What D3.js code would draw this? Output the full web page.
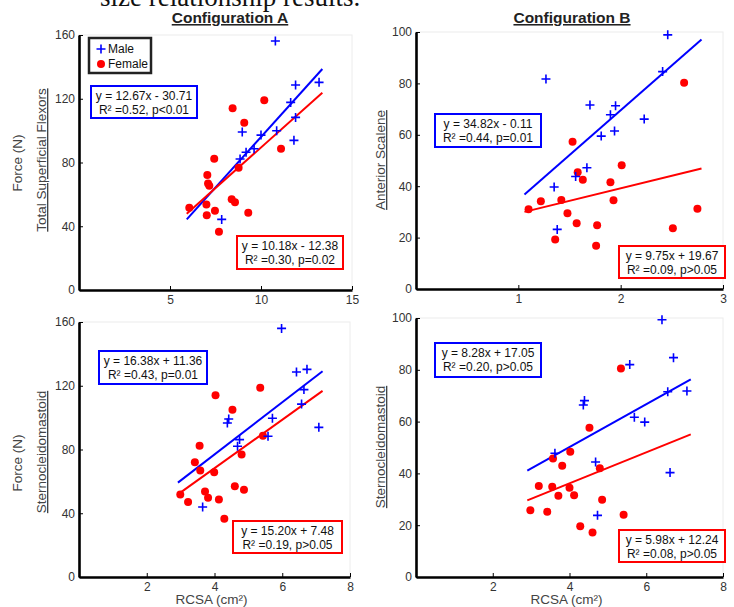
<!DOCTYPE html>
<html>
<head>
<meta charset="utf-8">
<script src="https://cdn.jsdelivr.net/npm/d3@7"></script>
<style>
  body { margin: 0; background: #fff; }
  svg { display: block; font-family: Arial, "Liberation Sans", sans-serif; }
</style>
</head>
<body>
<svg id="chart" width="734" height="607"></svg>
<script>
// Configuration A - Total Superficial Flexors (RCSA, Force)
const aMale = [[10.79,156.2],[11.9,128.6],[13.19,130.3],[11.63,117.7],[11.9,108.3],[10.86,99.9],
  [10.0,97.2],[11.81,93.9],[8.97,99.1],[9.62,88.6],[9.18,86.4],[8.85,82.2],[7.84,44.3]];
const aFemale = [[10.18,119.0],[8.44,114.0],[9.08,105.0],[11.1,88.6],[8.77,76.7],[7.43,82.4],
  [7.05,72.1],[7.09,66.9],[7.16,65.4],[6.06,51.6],[7.0,53.7],[8.39,56.9],[8.57,55.0],
  [7.47,49.8],[9.3,48.5],[7.02,46.9],[7.69,36.6]];

// Configuration B - Anterior Scalene
const bMale = [[2.46,98.9],[2.41,84.6],[1.27,81.7],[1.70,71.6],[1.95,71.3],[1.90,67.8],
  [2.23,66.1],[1.94,61.5],[1.81,59.5],[1.67,47.2],[1.56,43.8],[1.35,39.7],[1.38,23.2]];
const bFemale = [[2.62,80.3],[1.53,57.3],[2.01,48.2],[1.58,45.4],[1.63,42.5],[1.90,41.5],
  [1.42,34.6],[1.22,34.1],[1.93,34.5],[1.10,31.0],[2.75,31.2],[1.48,29.5],[1.57,25.6],
  [1.77,24.8],[2.51,23.6],[1.36,19.3],[1.76,16.8]];

// Configuration A - Sternocleidomastoid
const cMale = [[5.98,156.0],[6.42,128.6],[6.73,130.3],[6.64,117.6],[6.57,108.5],[5.71,99.6],
  [4.42,99.1],[4.38,96.6],[7.08,93.9],[5.58,88.3],[4.74,86.2],[4.68,82.0],[3.65,43.9]];
const cFemale = [[5.35,118.8],[4.03,114.0],[4.53,105.0],[5.43,88.7],[3.56,82.4],[4.80,76.8],
  [3.42,72.0],[3.58,66.9],[3.99,65.7],[4.60,56.9],[4.87,54.8],[3.72,53.6],[2.99,51.7],
  [3.81,49.8],[4.13,48.6],[3.22,47.1],[4.29,36.6]];

// Configuration B - Sternocleidomastoid
const dMale = [[6.41,99.3],[6.71,84.7],[5.57,82.0],[6.56,71.5],[7.06,71.8],[4.39,68.1],
  [4.36,66.4],[5.69,61.7],[5.96,59.8],[3.62,47.8],[4.68,44.4],[6.62,40.3],[4.73,23.8]];
const dFemale = [[5.34,80.5],[4.52,57.6],[4.02,48.4],[3.57,45.8],[3.81,43.0],[4.79,42.0],
  [3.20,35.1],[3.55,34.8],[4.0,34.5],[3.71,31.4],[4.12,31.6],[4.85,29.8],[2.98,25.8],
  [3.42,25.2],[5.41,24.0],[4.28,19.6],[4.60,17.2]];

// regression fits: [slope, intercept], drawn over lineX
const aFit = { male: [12.67, -30.71], female: [10.18, -12.38] };
const bFit = { male: [34.82, -0.11], female: [9.75, 19.67] };
const cFit = { male: [16.38, 11.36], female: [15.20, 7.48] };
const dFit = { male: [8.28, 17.05], female: [5.98, 12.24] };
const aLineX = [5.92, 13.37];
const bLineX = [1.06, 2.79];
const cLineX = [2.92, 7.19];
const dLineX = [2.9, 7.16];

const aStats = { male: ["y = 12.67x - 30.71", "R\u00b2 =0.52, p<0.01"], female: ["y = 10.18x - 12.38", "R\u00b2 =0.30, p=0.02"] };
const bStats = { male: ["y = 34.82x - 0.11", "R\u00b2 =0.44, p=0.01"], female: ["y = 9.75x + 19.67", "R\u00b2 =0.09, p>0.05"] };
const cStats = { male: ["y = 16.38x + 11.36", "R\u00b2 =0.43, p=0.01"], female: ["y = 15.20x + 7.48", "R\u00b2 =0.19, p>0.05"] };
const dStats = { male: ["y = 8.28x + 17.05", "R\u00b2 =0.20, p>0.05"], female: ["y = 5.98x + 12.24", "R\u00b2 =0.08, p>0.05"] };

const forceTicks = [0, 40, 80, 120, 160];
const scaleneTicks = [0, 20, 40, 60, 80, 100];
const aXTicks = [5, 10, 15];
const bXTicks = [1, 2, 3];
const rcsaTicks = [2, 4, 6, 8];

const BLUE = "#0000ff", RED = "#ff0000";
const svg = d3.select("#chart");

// heading from the page above, cut off at the top
svg.append("text")
  .attr("x", 100).attr("y", 6)
  .attr("font-family", "'Liberation Serif', 'DejaVu Serif', serif")
  .attr("font-size", 27).attr("fill", "#111")
  .text("size relationship results.");

function panel(o) {
  const x = d3.scaleLinear().domain(o.xDomain).range(o.xRange);
  const y = d3.scaleLinear().domain(o.yDomain).range(o.yRange);
  const g = svg.append("g");

  // faint frame
  g.append("rect")
    .attr("x", o.xRange[0]).attr("y", o.yRange[1])
    .attr("width", o.xRange[1] - o.xRange[0]).attr("height", o.yRange[0] - o.yRange[1])
    .attr("fill", "none").attr("stroke", "#ececec").attr("stroke-width", 1);

  const xa = g.append("g")
    .attr("transform", "translate(0," + o.yRange[0] + ")")
    .call(d3.axisBottom(x).tickValues(o.xTicks).tickFormat(d3.format("~g"))
      .tickSizeInner(-4).tickSizeOuter(0).tickPadding(5));
  const ya = g.append("g")
    .attr("transform", "translate(" + o.xRange[0] + ",0)")
    .call(d3.axisLeft(y).tickValues(o.yTicks).tickSizeInner(-4).tickSizeOuter(0).tickPadding(4));
  [xa, ya].forEach(a => {
    a.select(".domain").attr("stroke", "#000").attr("stroke-width", 2.6);
    a.selectAll(".tick line").attr("stroke", "#000").attr("stroke-width", 1);
    a.selectAll(".tick text").attr("font-size", 12).attr("fill", "#333")
      .attr("font-family", "Arial, 'Liberation Sans', sans-serif");
  });

  // fit lines
  [["male", BLUE], ["female", RED]].forEach(([k, c]) => {
    const [m, b] = o.fit[k];
    g.append("line")
      .attr("x1", x(o.lineX[0])).attr("y1", y(m * o.lineX[0] + b))
      .attr("x2", x(o.lineX[1])).attr("y2", y(m * o.lineX[1] + b))
      .attr("stroke", c).attr("stroke-width", 2);
  });

  // female dots
  g.append("g").selectAll("circle").data(o.female).join("circle")
    .attr("cx", d => x(d[0])).attr("cy", d => y(d[1]))
    .attr("r", 4).attr("fill", RED);

  // male plus signs
  g.append("g").selectAll("path").data(o.male).join("path")
    .attr("d", d => {
      const px = x(d[0]), py = y(d[1]), s = 4.5;
      return `M${px - s},${py}H${px + s}M${px},${py - s}V${py + s}`;
    })
    .attr("stroke", BLUE).attr("stroke-width", 1.6).attr("fill", "none");

  // stats boxes
  [["male", BLUE], ["female", RED]].forEach(([k, c]) => {
    const bx = o.boxes[k];
    const bg = g.append("g").attr("transform", `translate(${bx[0]},${bx[1]})`);
    bg.append("rect").attr("width", bx[2]).attr("height", bx[3])
      .attr("fill", "#fff").attr("stroke", c).attr("stroke-width", 2);
    o.stats[k].forEach((t, i) => {
      bg.append("text").attr("x", bx[2] / 2).attr("y", 14 + i * 14)
        .attr("text-anchor", "middle").attr("font-size", 12).attr("fill", "#111")
        .text(t);
    });
  });

  // y label
  const ym = (o.yRange[0] + o.yRange[1]) / 2;
  o.yLabels.forEach(l => {
    g.append("text")
      .attr("transform", `translate(${l.x},${l.y || ym}) rotate(-90)`)
      .attr("text-anchor", "middle").attr("font-size", 13.5).attr("fill", "#444")
      .style("text-decoration", l.under ? "underline" : null)
      .text(l.text);
  });

  if (o.xLabel) {
    g.append("text")
      .attr("x", (o.xRange[0] + o.xRange[1]) / 2 - 3).attr("y", o.yRange[0] + 27)
      .attr("text-anchor", "middle").attr("font-size", 13.5).attr("fill", "#444")
      .text(o.xLabel);
  }
  if (o.title) {
    g.append("text")
      .attr("x", o.title.x).attr("y", 23)
      .attr("text-anchor", "middle").attr("font-size", 15.5).attr("font-weight", "bold")
      .attr("fill", "#222").style("text-decoration", "underline")
      .text(o.title.text);
  }
  return { x, y, g };
}

const pA = panel({
  xDomain: [0, 15], xRange: [79, 352], yDomain: [0, 160], yRange: [290, 35],
  xTicks: aXTicks, yTicks: forceTicks, male: aMale, female: aFemale,
  fit: aFit, lineX: aLineX, stats: aStats,
  boxes: { male: [91, 86, 106, 32], female: [237, 236, 106, 33] },
  yLabels: [{ text: "Force (N)", x: 22, y: 163 }, { text: "Total Superficial Flexors", x: 46, y: 160, under: true }],
  title: { text: "Configuration A", x: 230 }
});
panel({
  xDomain: [0, 3], xRange: [416, 723], yDomain: [0, 100], yRange: [289, 32],
  xTicks: bXTicks, yTicks: scaleneTicks, male: bMale, female: bFemale,
  fit: bFit, lineX: bLineX, stats: bStats,
  boxes: { male: [435, 114, 106, 33], female: [619, 246, 106, 32] },
  yLabels: [{ text: "Anterior Scalene", x: 385, y: 160, under: true }],
  title: { text: "Configuration B", x: 572 }
});
panel({
  xDomain: [0, 8], xRange: [79, 350], yDomain: [0, 160], yRange: [577, 322],
  xTicks: rcsaTicks, yTicks: forceTicks, male: cMale, female: cFemale,
  fit: cFit, lineX: cLineX, stats: cStats,
  boxes: { male: [99, 351, 108, 33], female: [233, 521, 109, 32] },
  yLabels: [{ text: "Force (N)", x: 22, y: 463 }, { text: "Sternocleidomastoid", x: 46, y: 452, under: true }],
  xLabel: "RCSA (cm\u00b2)"
});
panel({
  xDomain: [0, 8], xRange: [416, 723], yDomain: [0, 100], yRange: [577, 318],
  xTicks: rcsaTicks, yTicks: scaleneTicks, male: dMale, female: dFemale,
  fit: dFit, lineX: dLineX, stats: dStats,
  boxes: { male: [435, 343, 106, 34], female: [619, 530, 106, 32] },
  yLabels: [{ text: "Sternocleidomastoid", x: 385, y: 447, under: true }],
  xLabel: "RCSA (cm\u00b2)"
});

// legend in panel A
const lg = pA.g.append("g").attr("transform", "translate(89,38)");
lg.append("rect").attr("width", 62).attr("height", 35)
  .attr("fill", "#fff").attr("stroke", "#222").attr("stroke-width", 2.5);
lg.append("path").attr("d", "M7.5,11H16.5M12,6.5V15.5")
  .attr("stroke", BLUE).attr("stroke-width", 1.6);
lg.append("circle").attr("cx", 12).attr("cy", 26).attr("r", 4).attr("fill", RED);
lg.append("text").attr("x", 19).attr("y", 15).attr("font-size", 12).attr("fill", "#111").text("Male");
lg.append("text").attr("x", 19).attr("y", 30).attr("font-size", 12).attr("fill", "#111").text("Female");
</script>
</body>
</html>
